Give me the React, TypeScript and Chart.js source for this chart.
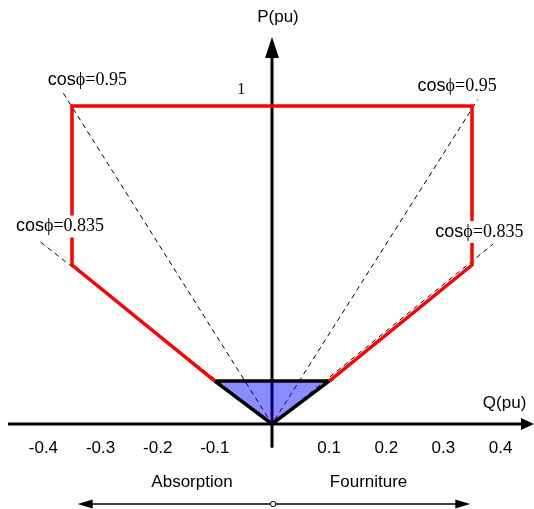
import React, { useEffect, useRef } from "react";
import { Chart, registerables } from "chart.js";

Chart.register(...registerables);

// ---- data ----
const Q_TICKS = [-0.4, -0.3, -0.2, -0.1, 0.1, 0.2, 0.3, 0.4];
const Q_TICK_LABELS = ["-0.4", "-0.3", "-0.2", "-0.1", "0.1", "0.2", "0.3", "0.4"];

// red capability curve (open polyline)
const RED_Q = [0.1, 0.35, 0.35, -0.35, -0.35, -0.1];
const RED_P = [0.135, 0.5, 1, 1, 0.5, 0.135];

// blue triangle
const TRI_Q = [-0.1, 0, 0.1, -0.1];
const TRI_P = [0.135, 0, 0.135, 0.135];

// power-factor rays (through origin)
const COS095_Q = [-0.365, 0, 0.36];
const COS095_P = [1.04, 0, 1.02];
const COS0835_Q = [-0.405, 0, 0.387];
const COS0835_P = [0.572, 0, 0.566];

const PF_LABELS = ["0.95", "0.95", "0.835", "0.835"];
const PF_LABEL_Q = [-0.323, 0.324, -0.371, 0.363];
const PF_LABEL_P = [1.082, 1.063, 0.621, 0.604];

const X_MIN = -0.476;
const X_MAX = 0.4585;
const Y_MIN = -0.2673;
const Y_MAX = 1.3333;

const pts = (qs: number[], ps: number[]) => qs.map((q, i) => ({ x: q, y: ps[i] }));

const SANS = "'Liberation Sans', Arial, sans-serif";
const SERIF = "'Liberation Serif', 'Times New Roman', serif";
const TRI_INDEX = 2;

const diagramPlugin = {
  id: "diagram",
  beforeDatasetsDraw(chart: any) {
    const ctx = chart.ctx;
    const xs = chart.scales.x;
    const ys = chart.scales.y;
    const X = (v: number) => xs.getPixelForValue(v);
    const Y = (v: number) => ys.getPixelForValue(v);
    const ox = X(0);
    const oy = Y(0);
    ctx.save();
    ctx.strokeStyle = "#000";
    ctx.fillStyle = "#000";
    ctx.lineWidth = 3;
    // horizontal axis
    const right = X(X_MAX);
    ctx.beginPath();
    ctx.moveTo(X(-0.462), oy);
    ctx.lineTo(right - 10, oy);
    ctx.stroke();
    ctx.beginPath();
    ctx.moveTo(right, oy);
    ctx.lineTo(right - 13, oy - 6);
    ctx.lineTo(right - 13, oy + 6);
    ctx.closePath();
    ctx.fill();
    // vertical axis
    const top = Y(1.217);
    ctx.beginPath();
    ctx.moveTo(ox, Y(-0.075));
    ctx.lineTo(ox, top + 10);
    ctx.stroke();
    ctx.beginPath();
    ctx.moveTo(ox, top);
    ctx.lineTo(ox - 7, top + 21);
    ctx.lineTo(ox + 7, top + 21);
    ctx.closePath();
    ctx.fill();
    ctx.restore();
  },
  beforeDatasetDraw(chart: any, args: any) {
    if (args.index !== TRI_INDEX) return;
    const ctx = chart.ctx;
    const els = args.meta.data;
    ctx.save();
    ctx.beginPath();
    els.forEach((el: any, i: number) => {
      if (i === 0) ctx.moveTo(el.x, el.y);
      else ctx.lineTo(el.x, el.y);
    });
    ctx.closePath();
    ctx.fillStyle = "rgba(0,0,255,0.45)";
    ctx.fill();
    ctx.restore();
  },
  afterDatasetsDraw(chart: any) {
    const ctx = chart.ctx;
    const xs = chart.scales.x;
    const ys = chart.scales.y;
    const X = (v: number) => xs.getPixelForValue(v);
    const Y = (v: number) => ys.getPixelForValue(v);
    ctx.save();
    ctx.fillStyle = "#000";
    ctx.textBaseline = "middle";
    ctx.textAlign = "center";
    // tick labels
    ctx.font = `17px ${SANS}`;
    Q_TICKS.forEach((q, i) => {
      ctx.fillText(Q_TICK_LABELS[i], X(q), Y(-0.075));
    });
    // axis titles
    ctx.fillText("Q(pu)", X(0.407), Y(0.066));
    ctx.fillText("P(pu)", X(0.0105), Y(1.28));
    ctx.fillText("Absorption", X(-0.14), Y(-0.182));
    ctx.fillText("Fourniture", X(0.169), Y(-0.182));
    // "1"
    ctx.font = `16px ${SERIF}`;
    ctx.fillText("1", X(-0.054), Y(1.05));
    // power factor labels
    PF_LABELS.forEach((v, i) => {
      ctx.font = `18px ${SANS}`;
      const w1 = ctx.measureText("cos").width;
      ctx.font = `18px ${SERIF}`;
      const rest = "\u03D5=" + v;
      const w2 = ctx.measureText(rest).width;
      const w = w1 + w2;
      const cx = X(PF_LABEL_Q[i]);
      const cy = Y(PF_LABEL_P[i]);
      const x0 = cx - w / 2;
      ctx.fillStyle = "#fff";
      ctx.fillRect(x0 - 1, cy - 11, w + 2, 22);
      ctx.fillStyle = "#000";
      ctx.textAlign = "left";
      ctx.font = `18px ${SANS}`;
      ctx.fillText("cos", x0, cy);
      ctx.font = `18px ${SERIF}`;
      ctx.fillText(rest, x0 + w1, cy);
      ctx.textAlign = "center";
    });
    // bottom double arrow
    const by = Y(-0.2516);
    const l = X(-0.34);
    const r = X(0.347);
    const c = X(0.002);
    ctx.strokeStyle = "#000";
    ctx.lineWidth = 1.3;
    ctx.beginPath();
    ctx.moveTo(l + 10, by);
    ctx.lineTo(r - 10, by);
    ctx.stroke();
    ctx.beginPath();
    ctx.moveTo(l, by);
    ctx.lineTo(l + 15, by - 4.5);
    ctx.lineTo(l + 15, by + 4.5);
    ctx.closePath();
    ctx.fill();
    ctx.beginPath();
    ctx.moveTo(r, by);
    ctx.lineTo(r - 15, by - 4.5);
    ctx.lineTo(r - 15, by + 4.5);
    ctx.closePath();
    ctx.fill();
    ctx.beginPath();
    ctx.arc(c, by, 2.7, 0, Math.PI * 2);
    ctx.fillStyle = "#fff";
    ctx.fill();
    ctx.lineWidth = 1;
    ctx.stroke();
    ctx.restore();
  },
};

export default function App() {
  const ref = useRef<HTMLCanvasElement>(null);
  useEffect(() => {
    if (!ref.current) return;
    const dashed = {
      borderColor: "#000",
      borderWidth: 1,
      borderDash: [5, 4],
      pointRadius: 0,
      showLine: true,
      fill: false,
    };
    const chart = new Chart(ref.current, {
      type: "scatter",
      data: {
        datasets: [
          { ...dashed, data: pts(COS095_Q, COS095_P), order: 5 },
          { ...dashed, data: pts(COS0835_Q, COS0835_P), order: 4 },
          {
            data: pts(TRI_Q, TRI_P),
            showLine: true,
            borderColor: "#000",
            borderWidth: 3.5,
            fill: false,
            pointRadius: 0,
            borderJoinStyle: "miter",
            order: 3,
          },
          {
            data: pts(RED_Q, RED_P),
            showLine: true,
            borderColor: "#ff0000",
            borderWidth: 3.5,
            pointRadius: 0,
            fill: false,
            borderJoinStyle: "miter",
            order: 1,
          },
        ],
      } as any,
      options: {
        animation: false,
        responsive: false,
        maintainAspectRatio: false,
        devicePixelRatio: 1,
        layout: { padding: 0 },
        plugins: { legend: { display: false }, tooltip: { enabled: false }, title: { display: false } },
        events: [],
        scales: {
          x: { type: "linear", min: X_MIN, max: X_MAX, display: false },
          y: { type: "linear", min: Y_MIN, max: Y_MAX, display: false },
        },
      } as any,
      plugins: [diagramPlugin],
    });
    return () => chart.destroy();
  }, []);
  return (
    <div style={{ position: "fixed", left: 0, top: 0, width: 534, height: 509, background: "#fff" }}>
      <canvas ref={ref} width={534} height={509} style={{ display: "block" }} />
    </div>
  );
}
